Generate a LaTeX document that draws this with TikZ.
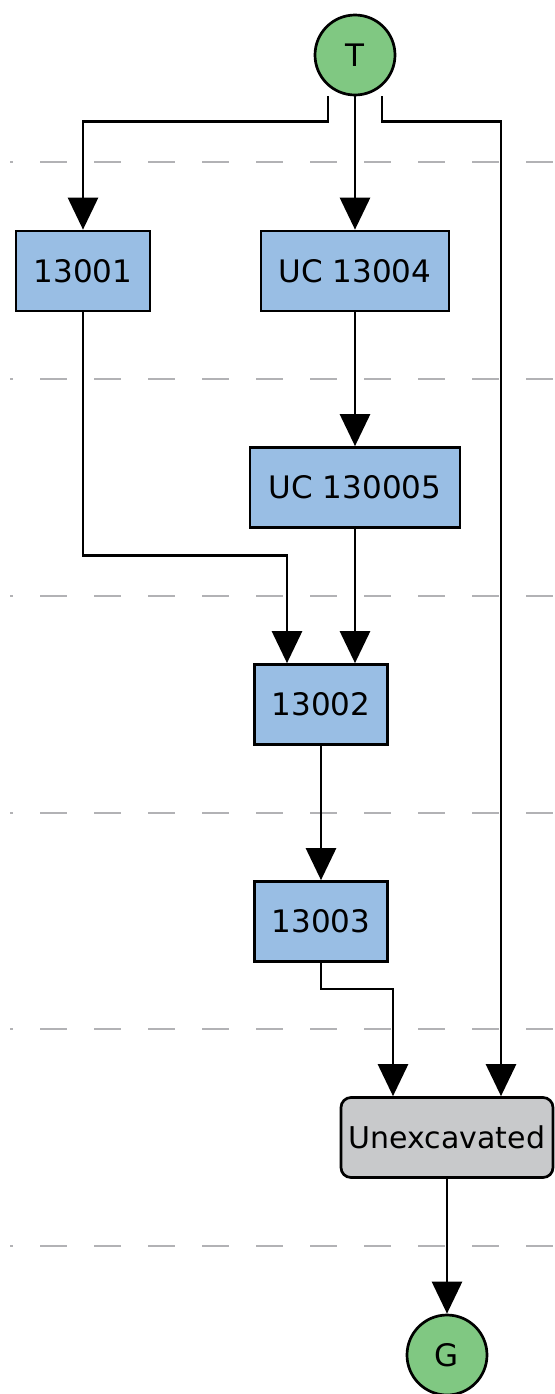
\documentclass[tikz,border=0pt]{standalone}
\usepackage{fontspec}
\setmainfont{DejaVu Sans}
\usetikzlibrary{arrows.meta}
\definecolor{termgreen}{RGB}{128,200,130}
\definecolor{unitblue}{RGB}{153,190,228}
\definecolor{unexgray}{RGB}{200,201,203}
\definecolor{phasegray}{RGB}{178,178,181}

\begin{document}
\begin{tikzpicture}[x=0.5pt,y=-0.5pt,
  every node/.style={font=\fontsize{15.5}{18}\selectfont},
  unit/.style={draw,line width=1.35pt,fill=unitblue,minimum height=40pt,inner sep=0pt},
  term/.style={circle,draw,line width=1.35pt,fill=termgreen,minimum size=40pt,inner sep=0pt},
  edge/.style={line width=1.35pt,-{Triangle[width=15pt,length=16pt]}},
  phase/.style={line width=1.1pt,color=phasegray,dash pattern=on 13.5pt off 13.5pt,dash phase=12pt}]
  \useasboundingbox (0,0) rectangle (555,1394);

  % phase separators
  \foreach \y in {162,379,596,813,1029,1246}
    \draw[phase] (10,\y) -- (555,\y);

  \node[term] (T) at (355,55) {T};
  \node[unit,minimum width=67pt] (u13001) at (83,271) {13001};
  \node[unit,minimum width=94pt] (u13004) at (355,271) {UC 13004};
  \node[unit,minimum width=105pt] (u130005) at (355,487.5) {UC 130005};
  \node[unit,minimum width=66.5pt] (u13002) at (321,704.5) {13002};
  \node[unit,minimum width=66.5pt] (u13003) at (321,921.5) {13003};
  \node[unit,fill=unexgray,rounded corners=5pt,minimum width=106pt,font=\fontsize{15}{18}\selectfont] (unexc) at (447,1137.5) {Unexcavated};
  \node[term] (G) at (447,1355) {G};

  \draw[edge] (T.south) -- (u13004.north);
  \draw[edge] ([xshift=-13.5pt]T.south) -- ++(0,25) -| (u13001.north);
  \draw[edge] ([xshift=13.5pt]T.south) -- ++(0,25) -| ([xshift=27pt]unexc.north);
  \draw[edge] (u13004.south) -- (u130005.north);
  \draw[edge] (u13001.south) -- ++(0,243) -| ([xshift=-17pt]u13002.north);
  \draw[edge] (u130005.south) -- ([xshift=17pt]u13002.north);
  \draw[edge] (u13002.south) -- (u13003.north);
  \draw[edge] (u13003.south) -- ++(0,26) -| ([xshift=-27pt]unexc.north);
  \draw[edge] (unexc.south) -- (G.north);
\end{tikzpicture}
\end{document}
